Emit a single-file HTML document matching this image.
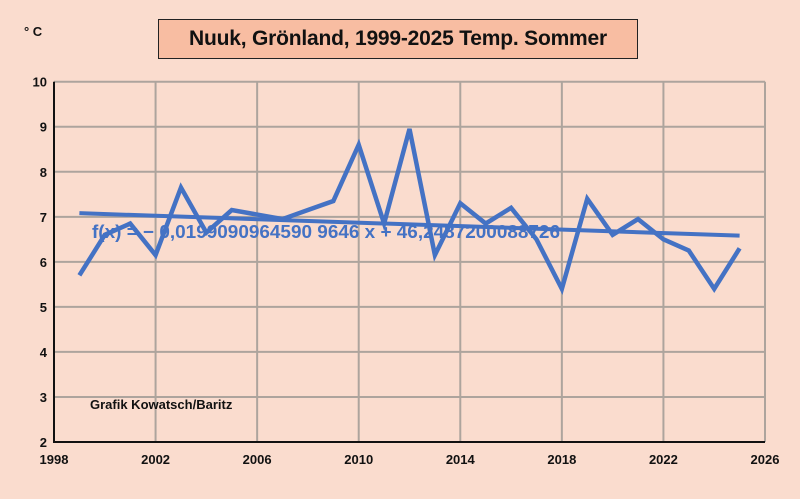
<!DOCTYPE html>
<html><head><meta charset="utf-8"><style>
body{margin:0;background:#fadcce;}
#c{position:relative;width:800px;height:499px;background:#fadcce;font-family:"Liberation Sans",sans-serif;overflow:hidden}
#title{position:absolute;left:158px;top:19px;width:480px;height:40px;background:#f8bda2;border:1.5px solid #222;box-sizing:border-box;font-size:21px;font-weight:bold;color:#111;line-height:38px;text-align:center;white-space:nowrap;font-family:"Liberation Sans",sans-serif;letter-spacing:-0.2px}
</style></head><body>
<div id="c">
<div id="title">Nuuk, Grönland, 1999-2025 Temp. Sommer</div>
<svg id="s" width="800" height="499" style="position:absolute;left:0;top:0"></svg>
</div>
<script>
const years=[1999,2000,2001,2002,2003,2004,2005,2006,2007,2008,2009,2010,2011,2012,2013,2014,2015,2016,2017,2018,2019,2020,2021,2022,2023,2024,2025];
const temps=[5.7,6.6,6.85,6.15,7.65,6.65,7.15,7.05,6.95,7.15,7.35,8.6,6.85,8.95,6.15,7.3,6.85,7.2,6.5,5.4,7.4,6.6,6.95,6.5,6.25,5.4,6.3];
const xTicks=[1998,2002,2006,2010,2014,2018,2022,2026];
const yTicks=[2,3,4,5,6,7,8,9,10];
const X=v=>54+(v-1998)*(765-54)/28;
const Y=v=>442-(v-2)*(442-81.7)/8;
const s=document.getElementById('s');const NS='http://www.w3.org/2000/svg';
function mk(t,a){const e=document.createElementNS(NS,t);for(const k in a)e.setAttribute(k,a[k]);s.appendChild(e);return e;}
yTicks.forEach(v=>{
 const l=mk('line',{x1:54,x2:765,y1:Y(v),y2:Y(v),stroke:'#ada49d','stroke-width':2});
 
 
 const t=mk('text',{x:47,y:Y(v)+5,'text-anchor':'end','font-size':13,'font-weight':'bold',fill:'#111'});t.textContent=v;
 
 
});
xTicks.forEach(v=>{
 if(v>1998){const l=mk('line',{x1:X(v),x2:X(v),y1:Y(10),y2:Y(2),stroke:'#ada49d','stroke-width':2});
 
 }
 const t=mk('text',{x:X(v),y:464,'text-anchor':'middle','font-size':13,'font-weight':'bold',fill:'#111'});t.textContent=v;
 
 
});
const ax=mk('path',{d:`M54 ${Y(10)} V442 H765`,stroke:'#111','stroke-width':2,fill:'none'});


const n=years.length;const mx=years.reduce((a,b)=>a+b)/n,my=temps.reduce((a,b)=>a+b)/n;
let sxy=0,sxx=0;years.forEach((x,i)=>{sxy+=(x-mx)*(temps[i]-my);sxx+=(x-mx)**2});
const m=sxy/sxx,b=my-m*mx;
const eq=mk('text',{x:92,y:238,'font-size':18.5,'font-weight':'bold',fill:'#4472c4','textLength':468,'lengthAdjust':'spacingAndGlyphs'});eq.textContent='f(x) = − 0,0199090964590 9646 x + 46,2487200088726';


const tr=mk('line',{x1:X(years[0]),y1:Y(m*years[0]+b),x2:X(years[n-1]),y2:Y(m*years[n-1]+b),stroke:'#4472c4','stroke-width':4});


const p=mk('polyline',{points:years.map((y,i)=>X(y)+','+Y(temps[i])).join(' '),fill:'none',stroke:'#4472c4','stroke-width':4.5,'stroke-linejoin':'miter'});


const u=mk('text',{x:24,y:36,'font-size':13,'font-weight':'bold',fill:'#111'});u.textContent='° C';


const g=mk('text',{x:90,y:409,'font-size':13,'font-weight':'bold',fill:'#111'});g.textContent='Grafik Kowatsch/Baritz';


</script>
</body></html>
